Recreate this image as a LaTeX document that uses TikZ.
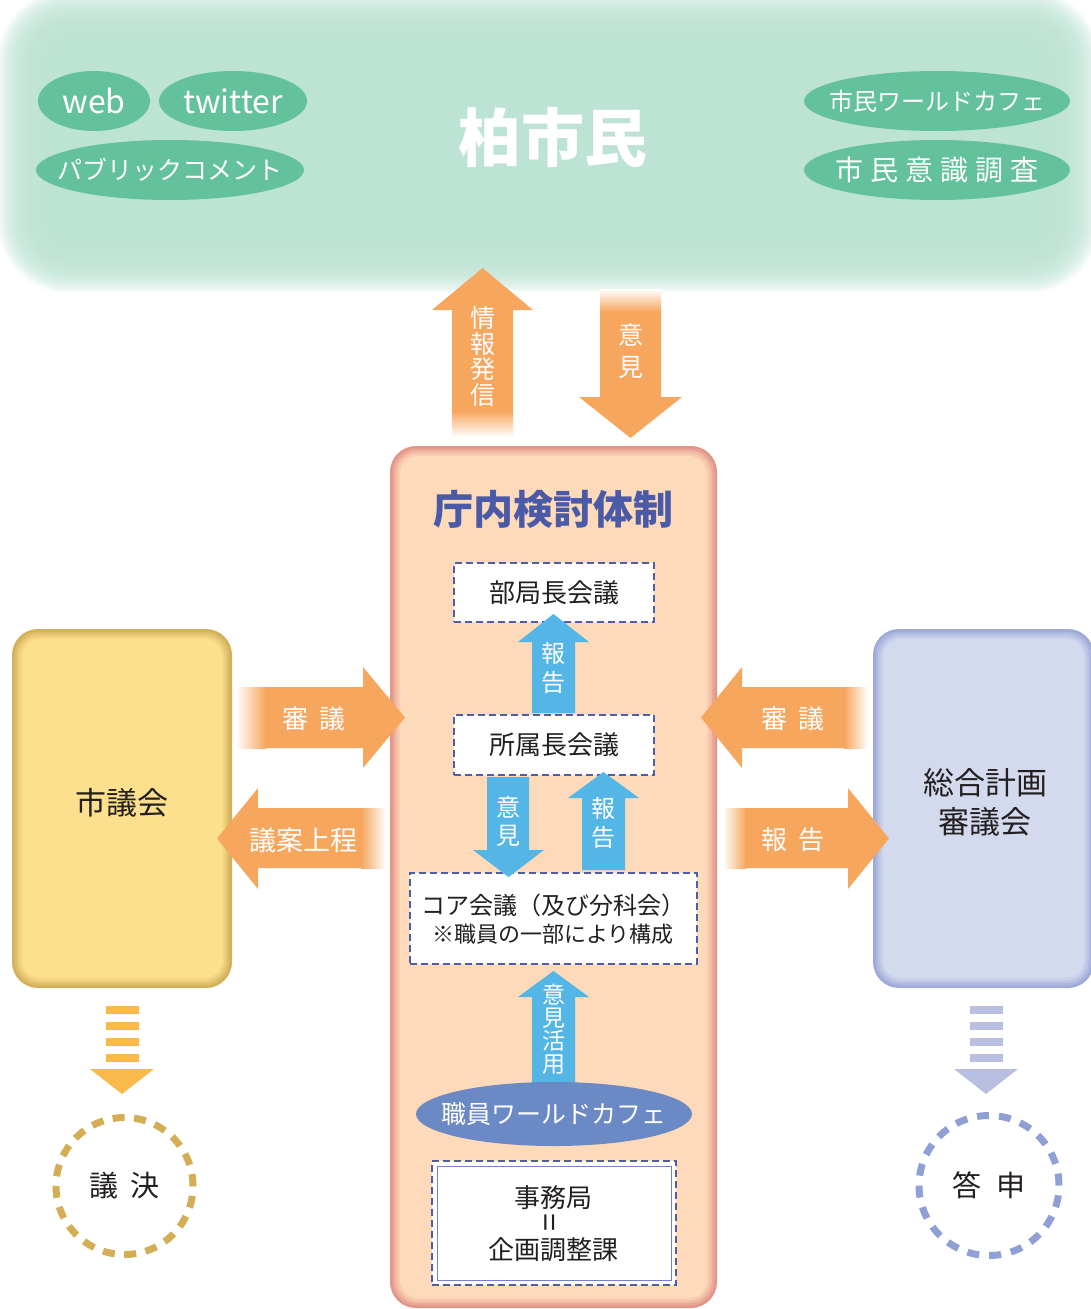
\documentclass[tikz,border=0pt]{standalone}
\usepackage{fontspec}
\setmainfont{Noto Sans CJK JP}
\usetikzlibrary{shapes.geometric}
\definecolor{bandgreen}{HTML}{BCE2D3}
\definecolor{ellgreen}{HTML}{63C29C}
\definecolor{arrorange}{HTML}{F7A65E}
\definecolor{arrblue}{HTML}{53B6E7}
\definecolor{centerfill}{HTML}{FDDAB9}
\definecolor{centerbdr}{HTML}{E3958A}
\definecolor{titleblue}{HTML}{4A5AA6}
\definecolor{dashblue}{HTML}{4C5EAA}
\definecolor{innerblue}{HTML}{7383C4}
\definecolor{gikaifill}{HTML}{FCE08E}
\definecolor{gikaibdr}{HTML}{D2B15A}
\definecolor{sogofill}{HTML}{D4DAEE}
\definecolor{sogobdr}{HTML}{9EAAD8}
\definecolor{stripeyellow}{HTML}{FBB84B}
\definecolor{circyellow}{HTML}{D3AE57}
\definecolor{stripepurple}{HTML}{B9BFE0}
\definecolor{circpurple}{HTML}{8FA0D5}
\definecolor{cafeblue}{HTML}{6B89C5}
\definecolor{textdark}{HTML}{231F20}
\newcommand\jfs[1]{\fontsize{#1}{#1}\selectfont}
\newcommand\layerbox[6]{%
  \fill[#5, rounded corners=26pt] (#1,#2) rectangle (#3,#4);
  \fill[#5!75!#6, rounded corners=24pt] ({#1+2.5},{#2+2.5}) rectangle ({#3-2.5},{#4-2.5});
  \fill[#5!45!#6, rounded corners=22pt] ({#1+5},{#2+5}) rectangle ({#3-5},{#4-5});
  \fill[#5!20!#6, rounded corners=20pt] ({#1+7.5},{#2+7.5}) rectangle ({#3-7.5},{#4-7.5});
  \fill[#6, rounded corners=18pt] ({#1+10},{#2+10}) rectangle ({#3-10},{#4-10});
}
\begin{document}
\begin{tikzpicture}[x=1pt,y=-1pt,
  greenell/.style={ellipse, fill=ellgreen, inner sep=0pt, text=white},
  dashbox/.style={draw=dashblue, line width=2.8pt, dash pattern=on 7pt off 4pt, fill=white, text=textdark, inner sep=0pt},
  wtxt/.style={text=white, inner sep=0pt},
  dtxt/.style={text=textdark, inner sep=0pt},
  vtxt/.style={text=white, inner sep=0pt, align=center},
  dcirc/.style={circle, line width=7pt, fill=white, text=textdark, inner sep=0pt}
]
\useasboundingbox (0,0) rectangle (1091,1309);
% ---- citizens band (soft edges)
\foreach \i in {0,...,39}{
  \pgfmathsetmacro\rr{70-1.2*\i}
  \fill[bandgreen, opacity=0.095, rounded corners=\rr pt] ({-2+1.35*\i},{-10+1.35*\i}) rectangle ({1099-1.35*\i},{293-1.35*\i});
}
\node[greenell, minimum width=112pt, minimum height=60pt, font=\jfs{32}] (web) at (94,101) {\makebox[0pt]{web}};
\node[greenell, minimum width=148pt, minimum height=60pt, font=\jfs{32}] (twitter) at (233,101) {\makebox[0pt]{twitter}};
\node[greenell, minimum width=268pt, minimum height=60pt, font=\jfs{25}] (pubcom) at (170,170) {\makebox[0pt]{パブリックコメント}};
\node[greenell, minimum width=266pt, minimum height=60pt, font=\jfs{24}] (cafecity) at (937,101) {\makebox[0pt]{市民ワールドカフェ}};
\node[greenell, minimum width=266pt, minimum height=60pt, font=\jfs{28}] (survey) at (937,170) {\makebox[0pt]{市\kern7pt民\kern7pt意\kern7pt識\kern7pt調\kern7pt査}};
\node[wtxt, font=\jfs{63}\bfseries] (citizens) at (553,137) {柏市民};
% ---- top arrows
\fill[arrorange] (452,310) -- (432,310) -- (482.5,268) -- (533,310) -- (513,310) -- (513,412) -- (452,412) -- cycle;
\shade[top color=arrorange, bottom color=white] (452,411) rectangle (513,437);
\node[vtxt, font=\fontsize{25}{25.7}\selectfont] (info) at (483,356.5) {情\\報\\発\\信};
\shade[top color=white, bottom color=arrorange] (600,289) rectangle (661,312);
\fill[arrorange] (600,311) -- (661,311) -- (661,397) -- (682,397) -- (630.5,438) -- (579,397) -- (600,397) -- cycle;
\node[vtxt, font=\fontsize{25}{32}\selectfont] (opin) at (630.5,351) {意\\見};
% ---- central box
\layerbox{390}{446}{717}{1308}{centerbdr}{centerfill}
\node[inner sep=0pt, text=titleblue, font=\jfs{40}\bfseries] (title) at (553,509) {庁内検討体制};
\node[dashbox, minimum width=200pt, minimum height=59pt, font=\jfs{26}] (bukyoku) at (554,592.5) {部局長会議};
\node[dashbox, minimum width=200pt, minimum height=60pt, font=\jfs{26}] (shozoku) at (554,745) {所属長会議};
\node[dashbox, minimum width=287pt, minimum height=91pt] (core) at (553.5,918.5) {};
\node[dtxt, font=\jfs{24}] (coret) at (553,905) {コア会議（及び分科会）};
\node[dtxt, font=\jfs{22}] (coresub) at (553,934) {※職員の一部により構成};
% blue arrows
\fill[arrblue] (532,713) -- (532,642) -- (518,642) -- (553.5,614) -- (589,642) -- (575,642) -- (575,713) -- cycle;
\node[vtxt, font=\fontsize{24}{29}\selectfont] (rep1) at (553.5,667.5) {報\\告};
\fill[arrblue] (487,777) -- (529,777) -- (529,850) -- (544,850) -- (508.5,877) -- (473,850) -- (487,850) -- cycle;
\node[vtxt, font=\fontsize{24}{28}\selectfont] (opin2) at (508.5,821) {意\\見};
\fill[arrblue] (582,870) -- (582,798) -- (568,798) -- (603.5,772) -- (639,798) -- (625,798) -- (625,870) -- cycle;
\node[vtxt, font=\fontsize{24}{29}\selectfont] (rep2) at (603.5,822.5) {報\\告};
\fill[arrblue] (532,1090) -- (532,997) -- (518,997) -- (553.5,971) -- (589,997) -- (575,997) -- (575,1090) -- cycle;
\node[vtxt, font=\fontsize{23}{23}\selectfont] (use) at (553.5,1029.5) {意\\見\\活\\用};
\node[ellipse, fill=cafeblue, minimum width=276pt, minimum height=64pt, inner sep=0pt, text=white, font=\jfs{25}] (cafe) at (554,1114) {\makebox[0pt]{職員ワールドカフェ}};
\node[draw=dashblue, line width=2.8pt, dash pattern=on 7pt off 4pt, fill=white, minimum width=244pt, minimum height=124pt, inner sep=0pt] (jimu) at (554,1223) {};
\node[draw=innerblue, line width=0.9pt, minimum width=234pt, minimum height=114pt, inner sep=0pt] (jimuin) at (554,1223) {};
\node[dtxt, font=\jfs{26}] (jimut) at (553,1198) {事務局};
\node[dtxt, font=\jfs{32}] (eq) at (553,1223) {\rotatebox{90}{=}};
\node[dtxt, font=\jfs{26}] (kikaku) at (553,1250) {企画調整課};
% ---- side boxes
\layerbox{12}{629}{232}{988}{gikaibdr}{gikaifill}
\node[dtxt, font=\jfs{31}] (council) at (122,803) {市議会};
\layerbox{873}{629}{1094}{988}{sogobdr}{sogofill}
\node[dtxt, align=center, font=\fontsize{31}{39}\selectfont] (sogo) at (985,802) {総合計画\\審議会};
% ---- horizontal arrows
\shade[left color=white, right color=arrorange] (236,687) rectangle (266,748);
\fill[arrorange] (265,687) -- (363,687) -- (363,667) -- (405,717.5) -- (363,768) -- (363,748) -- (265,748) -- cycle;
\node[wtxt, font=\jfs{26}] (shingi1) at (314,719) {審\hspace{11pt}議};
\fill[arrorange] (217,838.5) -- (258,788) -- (258,808) -- (362,808) -- (362,868) -- (258,868) -- (258,889) -- cycle;
\shade[left color=arrorange, right color=white] (361,808) rectangle (386,868);
\node[wtxt, font=\jfs{27}] (joutei) at (303.5,840) {議案上程};
\fill[arrorange] (701,717.5) -- (742,667) -- (742,687) -- (845,687) -- (845,748) -- (742,748) -- (742,768) -- cycle;
\shade[left color=arrorange, right color=white] (844,687) rectangle (868,748);
\node[wtxt, font=\jfs{26}] (shingi2) at (793,719) {審\hspace{11pt}議};
\shade[left color=white, right color=arrorange] (723,808) rectangle (746,868);
\fill[arrorange] (745,808) -- (848,808) -- (848,788) -- (889,838.5) -- (848,889) -- (848,868) -- (745,868) -- cycle;
\node[wtxt, font=\jfs{26}] (houkoku) at (793,840) {報\hspace{11pt}告};
% ---- bottom striped arrows and circles
\foreach \yy in {1006,1022,1038,1054}{
  \fill[stripeyellow] (106,\yy) rectangle (139,\yy+8);
  \fill[stripepurple] (970,\yy) rectangle (1003,\yy+8);
}
\fill[stripeyellow] (90,1069) -- (154,1069) -- (122,1094) -- cycle;
\fill[stripepurple] (954,1069) -- (1018,1069) -- (986,1094) -- cycle;
\node[dcirc, draw=circyellow, dash pattern=on 12pt off 9.5pt, minimum size=137pt, font=\jfs{29}] (giketsu) at (124.5,1186) {議\hspace{13pt}決};
\node[dcirc, draw=circpurple, dash pattern=on 12pt off 10pt, minimum size=140pt, font=\jfs{29}] (toushin) at (989,1185.5) {答\hspace{16pt}申};
\end{tikzpicture}
\end{document}
